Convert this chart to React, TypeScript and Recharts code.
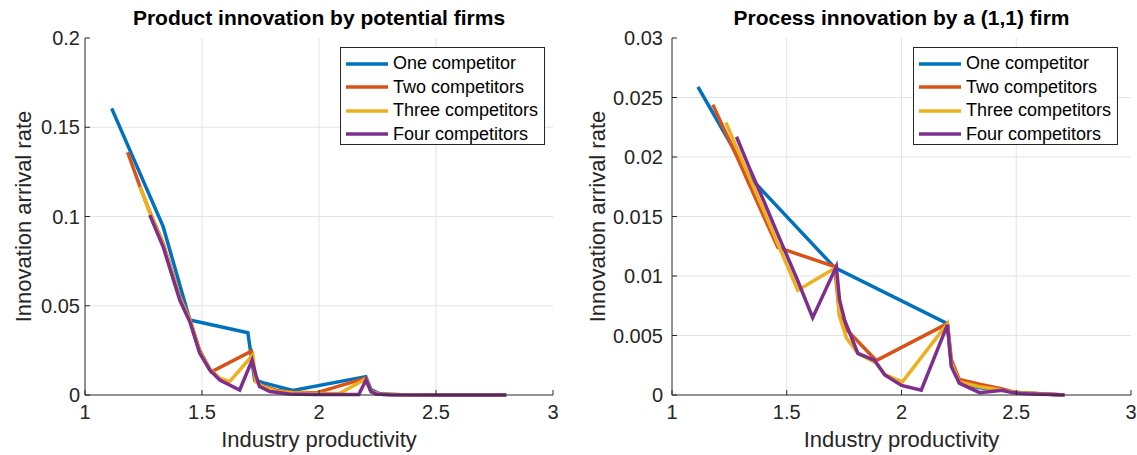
import React from 'react';
import { LineChart, Line, XAxis, YAxis, CartesianGrid, Legend } from 'recharts';

const FONT = '"Liberation Sans", Arial, Helvetica, sans-serif';
const AXIS = '#262626';
const GRID = '#e3e3e3';

const seriesNames = ['One competitor', 'Two competitors', 'Three competitors', 'Four competitors'];
const seriesColors = ['#0072BD', '#D95319', '#EDB120', '#7E2F8E'];

const xTicks = [1, 1.5, 2, 2.5, 3];
const productYTicks = [0, 0.05, 0.1, 0.15, 0.2];
const processYTicks = [0, 0.005, 0.01, 0.015, 0.02, 0.025, 0.03];

// Product innovation by potential firms: [productivity, rate]
const productOne: [number, number][] = [[1.114,0.1606],[1.334,0.0943],[1.448,0.042],[1.696,0.0349],[1.725,0.0084],[1.76,0.0069],[1.888,0.0026],[2.2,0.0103],[2.222,0.003],[2.26,0.0006],[2.35,0.0001],[2.5,0],[2.8,0]];
const productTwo: [number, number][] = [[1.182,0.136],[1.235,0.1167],[1.277,0.1025],[1.334,0.085],[1.405,0.055],[1.448,0.0425],[1.49,0.025],[1.54,0.013],[1.711,0.0245],[1.728,0.0078],[1.76,0.005],[1.82,0.0025],[1.888,0.0015],[1.988,0.0012],[2.2,0.0095],[2.222,0.0022],[2.26,0.0004],[2.35,0.0001],[2.5,0],[2.8,0]];
const productThree: [number, number][] = [[1.235,0.1167],[1.277,0.102],[1.334,0.0845],[1.405,0.0545],[1.448,0.042],[1.49,0.0242],[1.533,0.0145],[1.576,0.0095],[1.618,0.0075],[1.717,0.0224],[1.73,0.0075],[1.76,0.0045],[1.82,0.002],[1.888,0.0012],[1.988,0.0008],[2.087,0.0008],[2.2,0.009],[2.222,0.002],[2.26,0.0004],[2.35,0.0001],[2.5,0],[2.8,0]];
const productFour: [number, number][] = [[1.277,0.1008],[1.334,0.083],[1.405,0.0532],[1.448,0.041],[1.49,0.0235],[1.533,0.014],[1.576,0.0084],[1.618,0.0056],[1.661,0.0028],[1.714,0.0195],[1.732,0.0103],[1.746,0.0047],[1.79,0.0019],[1.874,0.0006],[1.988,0.0003],[2.087,0.0003],[2.17,0.0003],[2.201,0.0084],[2.222,0.0019],[2.244,0.0006],[2.3,0.0001],[2.5,0],[2.8,0]];

// Process innovation by a (1,1) firm
const processOne: [number, number][] = [[1.113,0.0259],[1.339,0.0183],[1.709,0.0107],[2.2,0.006],[2.217,0.0026],[2.252,0.001],[2.34,0.0006],[2.44,0.0004],[2.5,0.0002],[2.71,0]];
const processTwo: [number, number][] = [[1.178,0.0244],[1.235,0.022],[1.281,0.0201],[1.339,0.0176],[1.4,0.015],[1.461,0.0124],[1.709,0.0108],[1.73,0.0067],[1.76,0.0055],[1.89,0.0029],[2.2,0.006],[2.217,0.003],[2.252,0.0013],[2.34,0.0009],[2.44,0.0005],[2.5,0.0002],[2.6,0.0001],[2.71,0]];
const processThree: [number, number][] = [[1.235,0.0229],[1.281,0.0208],[1.339,0.0182],[1.4,0.0155],[1.461,0.0127],[1.548,0.0088],[1.713,0.0107],[1.73,0.0066],[1.76,0.0048],[1.81,0.0035],[1.89,0.0027],[1.93,0.0017],[2.004,0.0011],[2.2,0.006],[2.217,0.0027],[2.252,0.0011],[2.34,0.0007],[2.44,0.0004],[2.5,0.0002],[2.71,0]];
const processFour: [number, number][] = [[1.281,0.0217],[1.339,0.019],[1.4,0.0163],[1.461,0.0135],[1.548,0.0096],[1.613,0.0065],[1.716,0.0108],[1.73,0.008],[1.752,0.0063],[1.81,0.0035],[1.883,0.0029],[1.926,0.0017],[2.0,0.0008],[2.086,0.0004],[2.2,0.0059],[2.217,0.0024],[2.252,0.001],[2.34,0.0002],[2.44,0.0004],[2.48,0.0002],[2.55,0.0001],[2.71,0]];

const toRows = (pairs: [number, number][]) => pairs.map(([x, y]) => ({ x, y }));

type PanelProps = {
  title: string;
  series: [number, number][][];
  yTicks: number[];
  left: number;
  width: number;
  marginLeft: number;
  marginRight: number;
  legendLeft: number;
  yLabelX: number;
  yTickMargin: number;
};

const LegendBox = () => (
  <div
    style={{
      width: 205,
      height: 98,
      boxSizing: 'border-box',
      border: `1px solid ${AXIS}`,
      background: '#fff',
      paddingTop: 4,
      fontFamily: FONT,
      fontSize: 18,
      color: '#000',
    }}
  >
    {seriesNames.map((n, i) => (
      <div key={n} style={{ display: 'flex', alignItems: 'center', height: 23.5, whiteSpace: 'nowrap' }}>
        <svg width={52} height={10} style={{ flex: 'none' }}>
          <line x1={5} x2={47} y1={5} y2={5} stroke={seriesColors[i]} strokeWidth={3.5} />
        </svg>
        <span>{n}</span>
      </div>
    ))}
  </div>
);

const Panel = (p: PanelProps) => {
  const height = 455;
  const plotLeft = p.marginLeft + 60;
  const plotRight = p.width - p.marginRight;
  return (
    <div style={{ position: 'absolute', left: p.left, top: 0, width: p.width, height }}>
      <div
        style={{
          position: 'absolute',
          left: plotLeft,
          width: plotRight - plotLeft,
          top: 6,
          textAlign: 'center',
          fontFamily: FONT,
          fontWeight: 'bold',
          fontSize: 21,
          lineHeight: '24px',
          whiteSpace: 'nowrap',
          color: '#000',
        }}
      >
        {p.title}
      </div>
      <LineChart width={p.width} height={height} margin={{ top: 38, right: p.marginRight, bottom: 30, left: p.marginLeft }}>
        <CartesianGrid
          stroke={GRID}
          strokeWidth={1}
          verticalValues={[1.5, 2, 2.5]}
          horizontalValues={p.yTicks.slice(1, -1)}
        />
        <XAxis
          dataKey="x"
          type="number"
          domain={[1, 3]}
          ticks={xTicks}
          allowDataOverflow
          height={30}
          tickSize={-5}
          tickMargin={15}
          stroke={AXIS}
          tick={{ fill: AXIS, fontSize: 20, fontFamily: FONT }}
          label={(props: any) => {
            const vb = props.viewBox || {};
            return (
              <text
                x={vb.x + vb.width / 2}
                y={vb.y + vb.height + 22}
                textAnchor="middle"
                fontFamily={FONT}
                fontSize={22}
                fill={AXIS}
              >
                Industry productivity
              </text>
            );
          }}
        />
        <YAxis
          type="number"
          domain={[p.yTicks[0], p.yTicks[p.yTicks.length - 1]]}
          ticks={p.yTicks}
          width={60}
          tickSize={-5}
          tickMargin={p.yTickMargin}
          stroke={AXIS}
          tick={{ fill: AXIS, fontSize: 20, fontFamily: FONT }}
          label={(props: any) => {
            const vb = props.viewBox || {};
            const cy = vb.y + vb.height / 2;
            return (
              <text
                x={p.yLabelX}
                y={cy}
                transform={`rotate(-90, ${p.yLabelX}, ${cy})`}
                textAnchor="middle"
                fontFamily={FONT}
                fontSize={22}
                fill={AXIS}
              >
                Innovation arrival rate
              </text>
            );
          }}
        />
        <Legend
          layout="horizontal"
          verticalAlign="middle"
          align="center"
          content={() => <LegendBox />}
          wrapperStyle={{ top: 47, left: p.legendLeft, width: 205, height: 98 }}
        />
        {p.series.map((s, i) => (
          <Line
            key={seriesNames[i]}
            name={seriesNames[i]}
            data={toRows(s)}
            dataKey="y"
            type="linear"
            stroke={seriesColors[i]}
            strokeWidth={3.5}
            dot={false}
            activeDot={false}
            isAnimationActive={false}
          />
        ))}
      </LineChart>
    </div>
  );
};

export default function App() {
  return (
    <div style={{ position: 'absolute', left: 0, top: 0, width: 1137, height: 455, background: '#fff', overflow: 'hidden' }}>
      <Panel
        title="Product innovation by potential firms"
        series={[productOne, productTwo, productThree, productFour]}
        yTicks={productYTicks}
        left={0}
        width={570}
        marginLeft={25}
        marginRight={17}
        legendLeft={340}
        yLabelX={31}
        yTickMargin={10}
      />
      <Panel
        title="Process innovation by a (1,1) firm"
        series={[processOne, processTwo, processThree, processFour]}
        yTicks={processYTicks}
        left={567}
        width={570}
        marginLeft={45}
        marginRight={6}
        legendLeft={346}
        yLabelX={38}
        yTickMargin={14}
      />
    </div>
  );
}
